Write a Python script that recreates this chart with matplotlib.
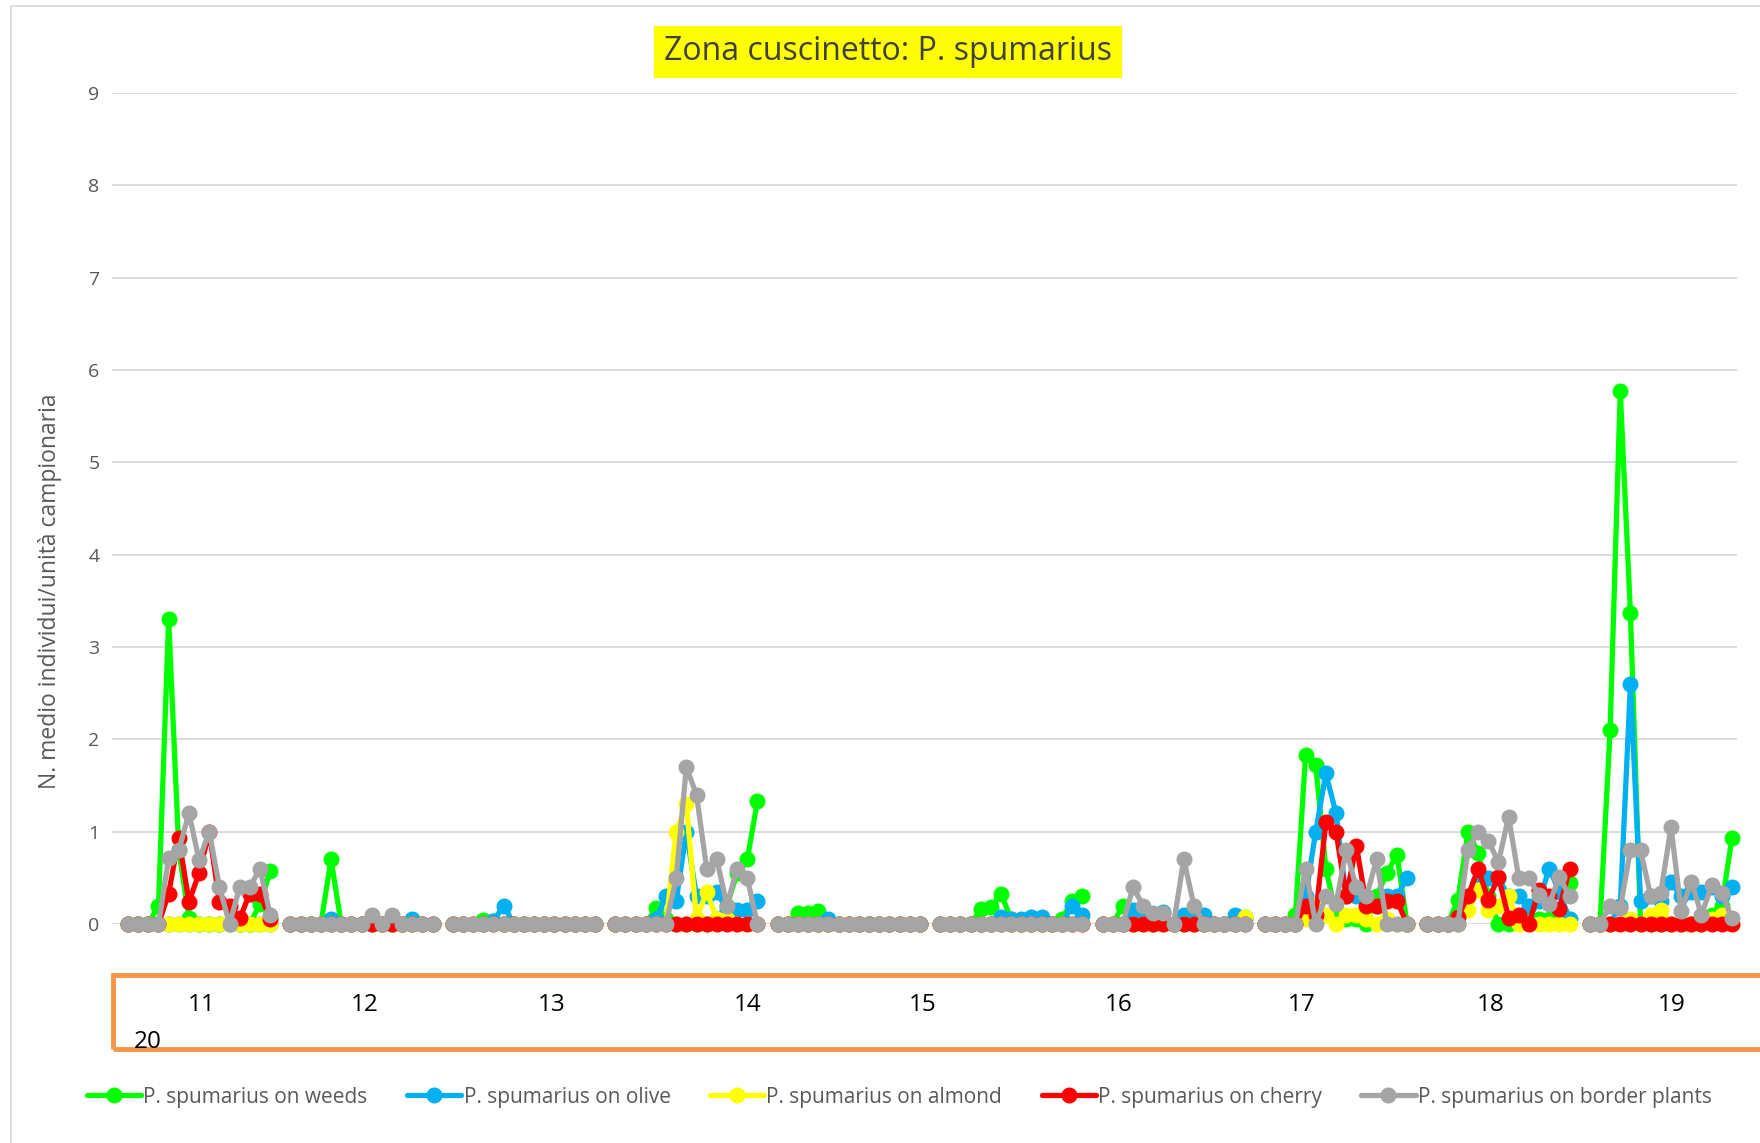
import numpy as np
import matplotlib
matplotlib.use('Agg')
import matplotlib.pyplot as plt
from matplotlib.patches import Rectangle
from matplotlib.lines import Line2D

plt.rcParams['font.family'] = ['Open Sans', 'DejaVu Sans']

# category labels shown in the orange box
group_labels = ['11', '12', '13', '14', '15', '16', '17', '18', '19']
extra_label = '20'

# mean individuals per sampling unit, 10 sampling blocks of 15 dates
weeds = [
    [0, 0, 0, 0.2, 3.3, 0.8, 0.07, 0, 0, 0, 0, 0, 0, 0.22, 0.57],
    [0, 0, 0, 0, 0.7, 0, 0, 0, 0, 0, 0, 0, 0, 0, 0],
    [0, 0, 0, 0.04, 0.03, 0, 0, 0, 0, 0, 0, 0, 0, 0, 0],
    [0, 0, 0, 0, 0.17, 0.05, 0, 0, 0, 0, 0.05, 0.2, 0.55, 0.7, 1.33],
    [0, 0, 0.12, 0.12, 0.14, 0, 0, 0, 0, 0, 0, 0, 0, 0, 0],
    [0, 0, 0, 0, 0.16, 0.18, 0.33, 0.05, 0, 0, 0, 0, 0.05, 0.25, 0.3],
    [0, 0, 0.2, 0, 0.05, 0, 0, 0, 0, 0, 0, 0, 0, 0, 0.08],
    [0, 0, 0, 0.1, 1.83, 1.72, 0.6, 0.1, 0.05, 0.05, 0, 0.3, 0.55, 0.75, 0],
    [0, 0, 0, 0.26, 1.0, 0.77, 0.3, 0, 0, 0.05, 0.05, 0.05, 0.05, 0.1, 0.44],
    [0, 0, 2.1, 5.77, 3.37, 0, 0, 0, 0, 0, 0, 0, 0.1, 0.2, 0.93],
]
olive = [
    [0] * 15,
    [0, 0, 0, 0, 0.05, 0, 0, 0, 0, 0, 0, 0, 0.05, 0, 0],
    [0, 0, 0, 0, 0.03, 0.2, 0, 0, 0, 0, 0, 0, 0, 0, 0],
    [0, 0, 0, 0, 0.05, 0.3, 0.25, 1.0, 0.3, 0.3, 0.35, 0.15, 0.15, 0.15, 0.25],
    [0, 0, 0, 0, 0, 0.05, 0, 0, 0, 0, 0, 0, 0, 0, 0],
    [0, 0, 0, 0, 0, 0, 0.08, 0.05, 0.05, 0.08, 0.08, 0, 0, 0.2, 0.1],
    [0, 0, 0, 0.15, 0.1, 0, 0.13, 0, 0.1, 0.1, 0.1, 0, 0, 0.1, 0.05],
    [0, 0, 0, 0, 0.3, 1.0, 1.63, 1.2, 0.3, 0.3, 0.25, 0.2, 0.3, 0.3, 0.5],
    [0, 0, 0, 0, 0.3, 0.45, 0.5, 0.5, 0.3, 0.3, 0.2, 0.25, 0.6, 0.35, 0.05],
    [0, 0, 0, 0.2, 2.6, 0.25, 0.3, 0.25, 0.45, 0.3, 0.35, 0.35, 0.4, 0.3, 0.4],
]
almond = [
    [0] * 15,
    [0] * 15,
    [0] * 15,
    [0, 0, 0, 0, 0, 0, 1.0, 1.3, 0.05, 0.35, 0.05, 0.05, 0, 0, 0],
    [0] * 15,
    [0] * 15,
    [0, 0, 0, 0, 0, 0, 0, 0, 0, 0, 0, 0, 0, 0, 0.08],
    [0, 0, 0, 0, 0.05, 0.2, 0.1, 0, 0.1, 0.1, 0.05, 0, 0.05, 0, 0],
    [0, 0, 0, 0, 0.15, 0.37, 0.15, 0.2, 0.3, 0, 0, 0, 0, 0, 0],
    [0, 0, 0, 0, 0.05, 0, 0.1, 0.15, 0, 0, 0, 0, 0.05, 0.1, 0],
]
cherry = [
    [0, 0, 0, 0, 0.33, 0.93, 0.24, 0.55, 1.0, 0.24, 0.2, 0.06, 0.33, 0.33, 0.05],
    [0] * 15,
    [0] * 15,
    [0] * 15,
    [0] * 15,
    [0] * 15,
    [0] * 15,
    [0, 0, 0, 0, 0.2, 0.1, 1.1, 1.0, 0.3, 0.85, 0.2, 0.2, 0.25, 0.25, 0],
    [0, 0, 0, 0.08, 0.3, 0.6, 0.26, 0.51, 0.07, 0.1, 0, 0.37, 0.3, 0.16, 0.6],
    [0] * 15,
]
border = [
    [0, 0, 0, 0, 0.71, 0.8, 1.2, 0.69, 1.0, 0.4, 0, 0.4, 0.4, 0.6, 0.1],
    [0, 0, 0, 0, 0, 0, 0, 0, 0.1, 0, 0.1, 0, 0, 0, 0],
    [0] * 15,
    [0, 0, 0, 0, 0, 0, 0.5, 1.7, 1.4, 0.6, 0.7, 0.2, 0.6, 0.5, 0],
    [0] * 15,
    [0] * 15,
    [0, 0, 0, 0.4, 0.2, 0.12, 0.12, 0, 0.7, 0.2, 0, 0, 0, 0, 0],
    [0, 0, 0, 0, 0.6, 0, 0.3, 0.22, 0.8, 0.4, 0.3, 0.7, 0, 0, 0],
    [0, 0, 0, 0, 0.8, 1.0, 0.9, 0.67, 1.16, 0.5, 0.5, 0.31, 0.22, 0.51, 0.3],
    [0, 0, 0.2, 0.17, 0.8, 0.8, 0.3, 0.34, 1.05, 0.14, 0.46, 0.1, 0.42, 0.34, 0.06],
]

series_names = ['P. spumarius on weeds', 'P. spumarius on olive', 'P. spumarius on almond',
                'P. spumarius on cherry', 'P. spumarius on border plants']
series_data = [weeds, olive, almond, cherry, border]
colors = ['#00FF00', '#00B0F0', '#FFFF00', '#FF0000', '#A5A5A5']


def flatten(groups):
    # one empty category between blocks, so the line breaks there
    out = []
    for i, g in enumerate(groups):
        if i > 0:
            out.append(np.nan)
        out.extend(g)
    return np.array(out, dtype=float)


W, H = 1760, 1143
fig = plt.figure(figsize=(W / 100, H / 100), dpi=100)
ax = fig.add_axes([112 / W, 1 - 924 / H, (1737 - 112) / W, (924 - 93) / H])

for k, (name, data, c) in enumerate(zip(series_names, series_data, colors)):
    y = flatten(data)
    x = np.arange(len(y))
    ax.plot(x, y, color=c, lw=3.8, marker='o', markersize=10.5, label=name,
            clip_on=False, zorder=3 + k, solid_capstyle='round')

ax.set_xlim(-1.58, 158.5)
ax.set_ylim(0, 9)
ax.set_yticks(range(10))
ax.set_xticks([])
ax.grid(axis='y', color='#D9D9D9', lw=1.3, zorder=0)
ax.set_axisbelow(True)
for s in ax.spines.values():
    s.set_visible(False)
ax.tick_params(axis='y', length=0, pad=9, labelsize=14, labelcolor='#595959')

fig.text(50 / W, 1 - 591 / H, 'N. medio individui/unità campionaria', rotation=90,
         ha='center', va='center', fontsize=16.5, color='#595959')

fig.text(888 / W, 1 - 52 / H, 'Zona cuscinetto: P. spumarius', ha='center', va='center',
         fontsize=23, color='#404040',
         bbox=dict(boxstyle='square,pad=0.3', facecolor='#FFFF00', edgecolor='none'))

# orange box with the block labels
fig.add_artist(Rectangle((113 / W, 1 - 1049 / H), (1800 - 113) / W, (1049 - 975) / H,
                         transform=fig.transFigure, fill=False, edgecolor='#F79646', lw=3.5))
label_x = [202, 365, 552, 748, 923, 1119, 1302, 1491, 1672]
for lx, lab in zip(label_x, group_labels):
    fig.text(lx / W, 1 - 1005 / H, lab, ha='center', va='center', fontsize=17.5, color='black')
fig.text(148 / W, 1 - 1042 / H, extra_label, ha='center', va='center', fontsize=17.5, color='black')

# thin chart border (top and left, rest is cropped)
fig.add_artist(Line2D([11 / W, 11 / W], [0, 1 - 6 / H], transform=fig.transFigure, color='#D9D9D9', lw=1.2))
fig.add_artist(Line2D([11 / W, 1], [1 - 6 / H, 1 - 6 / H], transform=fig.transFigure, color='#D9D9D9', lw=1.2))

fig.legend(loc='center', bbox_to_anchor=(0.511, 1 - 1097 / H), ncol=5, frameon=False,
           fontsize=15, handlelength=2.6, handletextpad=0.1, columnspacing=1.9,
           labelcolor='#595959')

fig.savefig('out.png', dpi=100)
